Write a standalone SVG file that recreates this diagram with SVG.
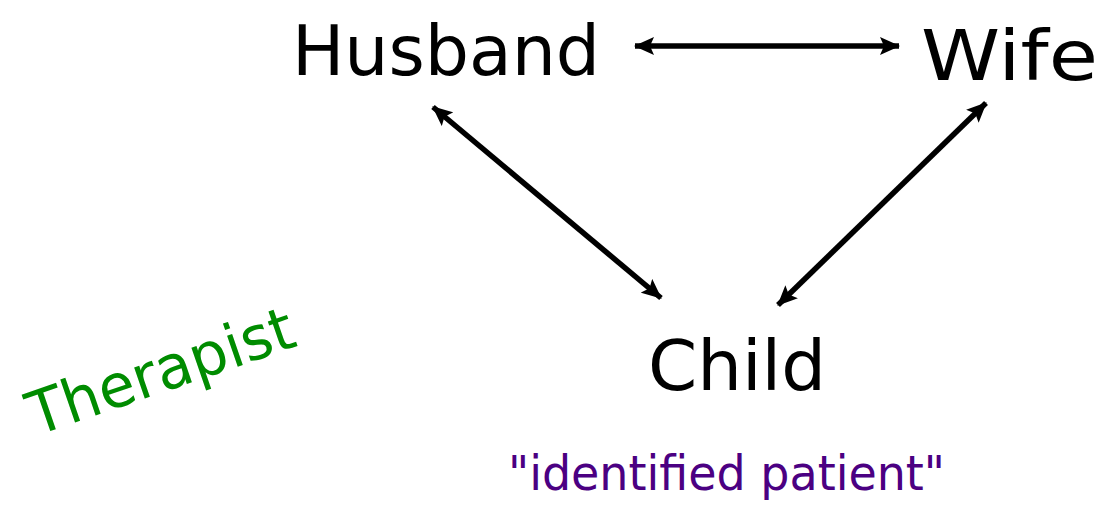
<svg xmlns="http://www.w3.org/2000/svg" width="1111" height="505" viewBox="0 0 1111 505">
<style>
.lbl{font-family:"Comic Sans MS","DejaVu Sans","Liberation Sans",sans-serif;}
.node{font-size:70px;fill:#000;}
.conn{stroke:#000;stroke-width:5.5;fill:none;marker-start:url(#ah);marker-end:url(#ah);}
</style>
<defs>
<marker id="ah" viewBox="0 0 20 18" refX="19" refY="9" markerWidth="20" markerHeight="18" orient="auto-start-reverse" markerUnits="userSpaceOnUse" preserveAspectRatio="none">
<path d="M0,0 L20,9 L0,18 L4,9 z" fill="#000"/>
</marker>
</defs>
<rect width="1111" height="505" fill="#fff"/>
<g id="connectors">
<line class="conn" x1="635" y1="46" x2="899" y2="46"/>
<line class="conn" x1="433" y1="107" x2="661" y2="298"/>
<line class="conn" x1="986" y1="103" x2="778" y2="305"/>
</g>
<g id="husband"><text class="lbl node" x="292" y="75" textLength="308" lengthAdjust="spacingAndGlyphs">Husband</text></g>
<g id="wife"><text class="lbl node" x="921" y="80" textLength="177" lengthAdjust="spacingAndGlyphs">Wife</text></g>
<g id="child"><text class="lbl node" x="648" y="390" textLength="178" lengthAdjust="spacingAndGlyphs">Child</text></g>
<g id="patient-label"><text class="lbl" x="508" y="490" font-size="48" fill="#4B0082" textLength="437" lengthAdjust="spacingAndGlyphs">"identified patient"</text></g>
<g id="therapist"><text class="lbl" transform="translate(36,436) rotate(-19)" font-size="60" fill="#008C00" textLength="278" lengthAdjust="spacingAndGlyphs">Therapist</text></g>
</svg>
